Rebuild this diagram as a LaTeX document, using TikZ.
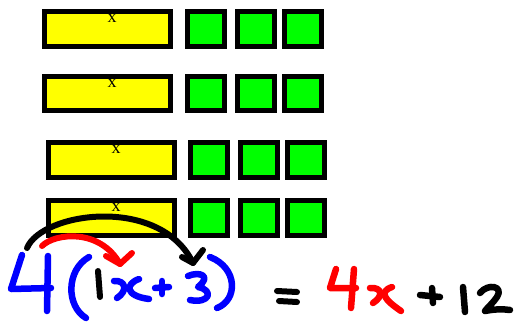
\documentclass[tikz,border=0pt]{standalone}
\usepackage{fontspec}
\setmainfont{Liberation Serif}
\definecolor{tileyellow}{RGB}{255,255,0}
\definecolor{tilegreen}{RGB}{0,255,0}
\definecolor{penblue}{RGB}{0,0,255}
\definecolor{penred}{RGB}{255,0,0}
\begin{document}
\begin{tikzpicture}[x=1pt,y=-1pt,
  tile/.style={draw=black,line width=5pt,inner sep=0pt,outer sep=0pt},
  xtile/.style={tile,fill=tileyellow,minimum width=126pt,minimum height=35pt},
  unittile/.style={tile,fill=tilegreen,minimum width=37pt,minimum height=35pt},
  xlabel/.style={font=\fontsize{18}{18}\selectfont,inner sep=0pt},
  pen/.style={line width=6.5pt,line cap=round,line join=round},
  bluepen/.style={pen,draw=penblue},
  redpen/.style={pen,draw=penred,line width=6pt},
  blackpen/.style={pen,draw=black,line width=6pt}]
\useasboundingbox (0,0) rectangle (515,325);
% row 1
\node[xtile] (y1) at (107.5,29) {};
\node[unittile] (g11) at (206,29) {};
\node[unittile] (g12) at (256,29) {};
\node[unittile] (g13) at (302.5,29) {};
\node[xlabel] (x1) at (112,18) {x};
% row 2
\node[xtile,minimum height=34pt] (y2) at (107.5,93.5) {};
\node[unittile,minimum height=34pt] (g21) at (206,93.5) {};
\node[unittile,minimum height=34pt] (g22) at (256,93.5) {};
\node[unittile,minimum height=34pt] (g23) at (302.5,93.5) {};
\node[xlabel] (x2) at (112,83) {x};
% row 3
\node[xtile] (y3) at (111.5,160) {};
\node[unittile] (g31) at (209,160) {};
\node[unittile] (g32) at (259,160) {};
\node[unittile] (g33) at (306,160) {};
\node[xlabel] (x3) at (116,149) {x};
% row 4
\node[xtile] (y4) at (111.5,218) {};
\node[unittile] (g41) at (209,218) {};
\node[unittile] (g42) at (259,218) {};
\node[unittile] (g43) at (306,218) {};
\node[xlabel] (x4) at (116,207) {x};
% handwriting: 4(1x+3)
\draw[bluepen] (22,255) -- (11,289) -- (51,288);
\draw[bluepen] (48,256) -- (47,311);
\draw[bluepen] (89,257) .. controls (66,270) and (66,306) .. (86,318);
\draw[blackpen] (98,271) -- (100,297);
\draw[bluepen] (114,281) .. controls (126,280) and (128,291) .. (117,298);
\draw[bluepen] (139,279) .. controls (125,284) and (125,296) .. (149,299);
\draw[bluepen] (155,288) -- (169,287);
\draw[bluepen] (162,281) -- (162,294);
\draw[bluepen] (188,276) .. controls (200,271) and (212,276) .. (198,287)
  .. controls (214,290) and (210,304) .. (190,300);
\draw[bluepen] (210,257) .. controls (238,268) and (238,300) .. (217,308);
% arrows
\coordinate (bs) at (27,248);
\coordinate (be) at (193,263);
\draw[blackpen] (bs) .. controls (42,212) and (160,195) .. (be);
\draw[blackpen] (182,257) -- (be) -- (203,250);
\coordinate (rs) at (42,246);
\coordinate (re) at (120,264);
\draw[redpen] (rs) .. controls (55,233) and (100,228) .. (re);
\draw[redpen] (106,256) -- (re) -- (132,253);
% = 4x + 12
\draw[blackpen] (277,291) -- (297,292);
\draw[blackpen] (279,301) -- (297,302);
\draw[redpen,line width=6.5pt] (336,269) -- (330,288) -- (356,288);
\draw[redpen,line width=6.5pt] (354,269) -- (351,308);
\draw[redpen,line width=6.5pt] (370,288) .. controls (382,287) and (384,296) .. (373,303);
\draw[redpen,line width=6.5pt] (392,287) .. controls (378,292) and (385,300) .. (401,311);
\draw[blackpen,line width=6.5pt] (420,295) -- (440,297);
\draw[blackpen,line width=6.5pt] (432,288) -- (433,303);
\draw[blackpen,line width=6.5pt] (463,287) -- (465,312);
\draw[blackpen,line width=6.5pt] (480,293) .. controls (488,283) and (504,286) .. (497,297)
  .. controls (493,303) and (487,308) .. (485,311)
  .. controls (495,309) and (503,309) .. (510,310);
\end{tikzpicture}
\end{document}
